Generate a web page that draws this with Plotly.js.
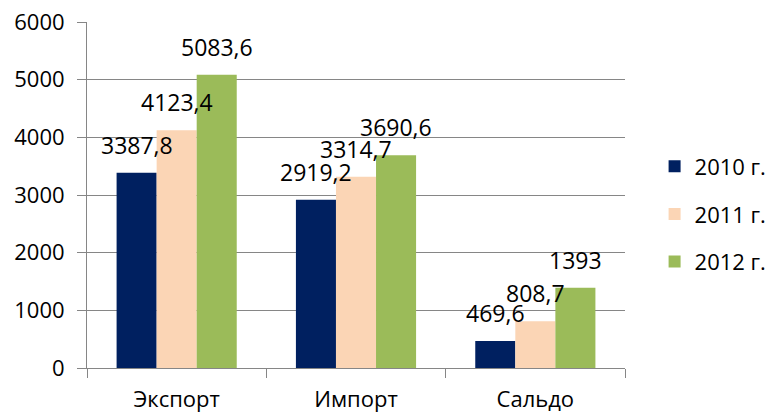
<!DOCTYPE html>
<html><head><meta charset="utf-8">
<script src="https://cdn.plot.ly/plotly-3.0.1.min.js"></script>
<style>html,body{margin:0;padding:0;background:#fff}</style>
</head><body><div id="chart" style="width:766px;height:413px"></div>
<script>
const categories = ['Экспорт', 'Импорт', 'Сальдо'];
const seriesNames = ['2010 г.', '2011 г.', '2012 г.'];
const values2010 = [3387.8, 2919.2, 469.6];
const values2011 = [4123.4, 3314.7, 808.7];
const values2012 = [5083.6, 3690.6, 1393];
const yTicks = [0, 1000, 2000, 3000, 4000, 5000, 6000];

const colors = ['#002060', '#FBD5B5', '#9BBB59'];
const FONT = 'Open Sans, Liberation Sans, sans-serif';
const bargap = 0.33;
const allValues = [values2010, values2011, values2012];

const traces = allValues.map((vals, j) => ({
  type: 'bar',
  x: categories,
  y: vals,
  name: seriesNames[j],
  legendgroup: 'g' + j,
  marker: {color: colors[j], line: {width: 0}},
  hoverinfo: 'skip'
}));

const barW = (1 - bargap) / allValues.length;
const fmt = v => String(v).replace('.', ',');
const annotations = [];
allValues.forEach((vals, j) => {
  vals.forEach((v, i) => {
    annotations.push({
      xref: 'x', yref: 'y',
      x: i + (j - (allValues.length - 1) / 2) * barW,
      y: v,
      text: fmt(v),
      showarrow: false,
      xanchor: 'center', yanchor: 'bottom',
      yshift: 10,
      font: {family: FONT, size: 23, color: '#000'}
    });
  });
});

const layout = {
  width: 766, height: 413,
  margin: {l: 87, r: 141, t: 22, b: 45, autoexpand: false},
  paper_bgcolor: '#fff', plot_bgcolor: '#fff',
  font: {family: FONT, size: 22, color: '#000'},
  barmode: 'group',
  bargap: bargap,
  bargroupgap: 0,
  showlegend: true,
  legend: {
    x: 1.055, xanchor: 'left',
    y: 0.445, yanchor: 'middle',
    font: {family: FONT, size: 22, color: '#000'},
    tracegroupgap: 16,
    traceorder: 'grouped',
    bgcolor: 'rgba(0,0,0,0)'
  },
  xaxis: {
    type: 'category',
    showgrid: false,
    showline: true, linecolor: '#868686', linewidth: 1,
    ticks: 'outside', tickson: 'boundaries', ticklen: 9, tickcolor: '#868686',
    ticklabelstandoff: 12,
    zeroline: false,
    fixedrange: true
  },
  yaxis: {
    range: [0, 6000],
    tickvals: yTicks,
    ticktext: yTicks.map(String),
    showgrid: true, gridcolor: '#868686', gridwidth: 1,
    showline: true, linecolor: '#868686', linewidth: 1,
    ticks: 'outside', ticklen: 9, tickcolor: '#868686',
    ticklabelstandoff: 8,
    zeroline: false,
    fixedrange: true
  },
  annotations: annotations
};

Plotly.newPlot('chart', traces, layout, {displayModeBar: false, staticPlot: true});
</script>
</body></html>
